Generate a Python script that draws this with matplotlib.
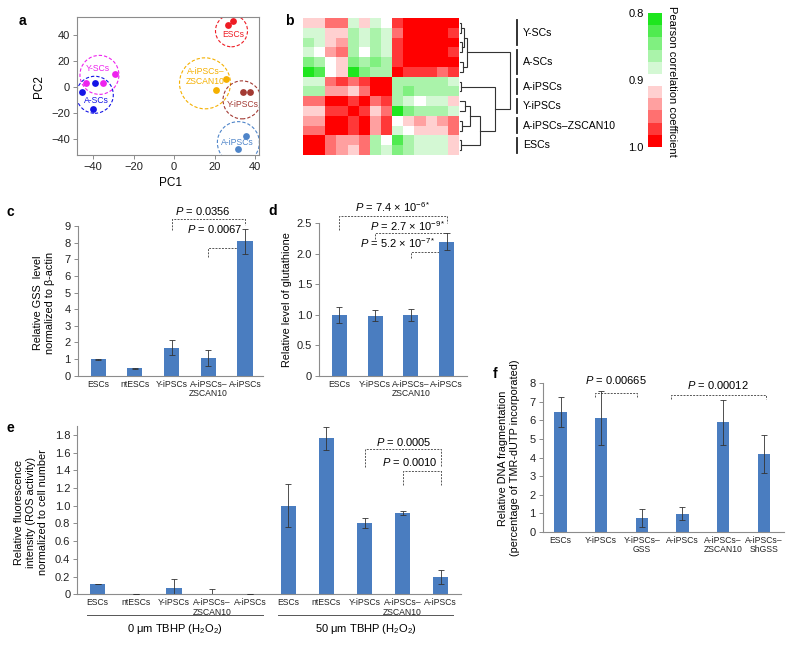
import numpy as np
import matplotlib
matplotlib.use('Agg')
import matplotlib.pyplot as plt
from matplotlib.colors import ListedColormap, BoundaryNorm
from matplotlib.patches import Ellipse

plt.rcParams['font.family'] = ['Liberation Sans', 'DejaVu Sans']
plt.rcParams['mathtext.fontset'] = 'custom'
plt.rcParams['mathtext.rm'] = 'Liberation Sans'
plt.rcParams['mathtext.it'] = 'Liberation Sans:italic'
plt.rcParams['mathtext.bf'] = 'Liberation Sans:bold'

# ---------------- data ----------------
# panel a (PCA)
pca_groups = ['ESCs', 'Y-SCs', 'A-SCs', 'A-iPSCs–\nZSCAN10', 'Y-iPSCs', 'A-iPSCs']
pc1_escs = [26.5, 29.3];          pc2_escs = [47.7, 51.0]
pc1_yscs = [-43.6, -35.3, -29.1]; pc2_yscs = [3.4, 3.0, 10.1]
pc1_ascs = [-45.6, -39.3, -40.3]; pc2_ascs = [-3.5, 3.4, -16.8]
pc1_zsc = [25.7, 20.6];           pc2_zsc = [6.0, -2.2]
pc1_yips = [33.9, 37.5];          pc2_yips = [-3.5, -3.5]
pc1_aips = [35.6, 31.7];          pc2_aips = [-37.5, -47.7]

# panel b (Pearson correlation heatmap)
heat_groups = ['Y-SCs', 'A-SCs', 'A-iPSCs', 'Y-iPSCs', 'A-iPSCs–ZSCAN10', 'ESCs']
heat_counts = [3, 3, 2, 2, 2, 2]
corr = [
    [.92, .92, .955, .955, .88, .92, .88, .90, .97, .99, .99, .99, .99, .99],
    [.88, .88, .92, .92, .865, .88, .865, .88, .955, .99, .99, .99, .99, .97],
    [.865, .88, .92, .935, .865, .88, .865, .88, .97, .99, .99, .99, .99, .99],
    [.88, .90, .935, .955, .865, .90, .865, .88, .97, .99, .99, .99, .99, .97],
    [.845, .865, .90, .92, .845, .865, .845, .865, .97, .99, .99, .99, .99, .99],
    [.81, .83, .90, .92, .81, .845, .865, .865, .99, .97, .97, .97, .955, .97],
    [.88, .88, .955, .97, .955, .97, .99, .99, .865, .865, .865, .865, .865, .88],
    [.865, .865, .935, .935, .92, .955, .99, .99, .865, .845, .865, .865, .865, .865],
    [.955, .955, .99, .99, .97, .99, .955, .97, .865, .88, .90, .88, .88, .92],
    [.92, .92, .97, .97, .99, .97, .92, .955, .81, .845, .865, .865, .865, .88],
    [.935, .935, .99, .99, .97, .99, .935, .97, .90, .92, .935, .92, .935, .955],
    [.955, .955, .99, .99, .97, .99, .935, .97, .88, .90, .92, .92, .92, .955],
    [.99, .99, .955, .935, .935, .955, .865, .90, .83, .865, .88, .88, .88, .92],
    [.99, .99, .955, .935, .92, .955, .865, .88, .845, .865, .88, .88, .88, .92],
]
# dendrogram linkage: (node_a, node_b, height); new nodes numbered from 14
linkage = [(0, 1, 0.03), (2, 3, 0.05), (14, 15, 0.08), (4, 5, 0.06), (16, 17, 0.14),
           (6, 7, 0.03), (8, 9, 0.10), (10, 11, 0.05), (20, 21, 0.20), (12, 13, 0.03),
           (22, 23, 0.40), (19, 24, 0.70), (18, 25, 1.00)]

# panel c
c_cats = ['ESCs', 'ntESCs', 'Y-iPSCs', 'A-iPSCs–\nZSCAN10', 'A-iPSCs']
c_vals = [1.0, 0.44, 1.68, 1.06, 8.07]
c_errs = [0.03, 0.05, 0.44, 0.48, 0.74]

# panel d
d_cats = ['ESCs', 'Y-iPSCs', 'A-iPSCs–\nZSCAN10', 'A-iPSCs']
d_vals = [1.0, 0.985, 1.0, 2.2]
d_errs = [0.135, 0.09, 0.1, 0.14]

# panel e
e_cats = ['ESCs', 'ntESCs', 'Y-iPSCs', 'A-iPSCs–\nZSCAN10', 'A-iPSCs'] * 2
e_vals = [0.116, 0.0, 0.068, 0.003, 0.003, 1.0, 1.76, 0.805, 0.918, 0.195]
e_errs = [0.005, 0.0, 0.10, 0.06, 0.005, 0.24, 0.13, 0.055, 0.02, 0.08]
e_groups = ['0 μm TBHP (H$_2$O$_2$)', '50 μm TBHP (H$_2$O$_2$)']

# panel f
f_cats = ['ESCs', 'Y-iPSCs', 'Y-iPSCs–\nGSS', 'A-iPSCs', 'A-iPSCs–\nZSCAN10', 'A-iPSCs–\nShGSS']
f_vals = [6.44, 6.12, 0.74, 0.98, 5.9, 4.17]
f_errs = [0.81, 1.45, 0.48, 0.36, 1.2, 1.03]

# ---------------- figure ----------------
W, H = 800, 651
fig = plt.figure(figsize=(8, 6.51), dpi=100)

def pax(x0, y0, x1, y1):
    return fig.add_axes([x0 / W, 1 - y1 / H, (x1 - x0) / W, (y1 - y0) / H])

def ftext(px, py, s, **kw):
    return fig.text(px / W, 1 - py / H, s, **kw)

BAR = '#4a7dc0'
SPC = '#8c8c8c'
TXT = '#222222'
CATFS = 6.2
YLFS = 7.8

for lab, px, py in [('a', 22, 21), ('b', 289, 21), ('c', 10, 212), ('d', 273, 211),
                    ('e', 10, 428), ('f', 495, 374)]:
    ftext(px, py, lab, fontsize=10, fontweight='bold', ha='center', va='center')

# ---- panel a ----
axa = pax(77, 17, 259, 155)
xl = (-48, 42); yl = (-52.3, 53.8)
axa.set_xlim(xl); axa.set_ylim(yl)
upx = (xl[1] - xl[0]) / (259 - 77)
upy = (yl[1] - yl[0]) / (155 - 17)
pca_sets = [
    (pc1_escs, pc2_escs, '#ee1c24', (28.4, 43.2), 16, (29.3, 40.6)),
    (pc1_yscs, pc2_yscs, '#ee22ee', (-36.9, 9.3), 19.5, (-37.5, 13.9)),
    (pc1_ascs, pc2_ascs, '#1414e6', (-39.2, -6.0), 18.5, (-38.3, -10.4)),
    (pc1_zsc, pc2_zsc, '#f5b000', (15.3, 2.8), 25.5, (15.6, 8.3)),
    (pc1_yips, pc2_yips, '#a33a33', (33.6, -9.9), 19, (33.8, -13.7)),
    (pc1_aips, pc2_aips, '#4f85c9', (31.8, -42.8), 21, (31.3, -42.6)),
]
for name, (xs, ys, col, cc, r, lxy) in zip(pca_groups, pca_sets):
    axa.scatter(xs, ys, s=24, color=col, linewidths=0, zorder=3)
    axa.add_patch(Ellipse(cc, 2 * r * upx, 2 * r * upy, fill=False, ec=col,
                          ls=(0, (3, 1.8)), lw=0.8))
    axa.text(lxy[0], lxy[1], name, color=col, fontsize=6.2, ha='center', va='center',
             linespacing=1.1)
axa.set_xticks([-40, -20, 0, 20, 40])
axa.set_yticks([-40, -20, 0, 20, 40])
axa.tick_params(labelsize=8, length=3, width=0.7, color=SPC, pad=2, labelcolor=TXT)
for s in axa.spines.values():
    s.set_color(SPC); s.set_linewidth(0.8)
ftext(39, 87, 'PC2', rotation=90, fontsize=8.5, ha='center', va='center')
ftext(170, 183, 'PC1', fontsize=8.5, ha='center', va='center')

# ---- panel b ----
cols11 = ['#1ee61e', '#50eb50', '#80f080', '#aaf3aa', '#d4f8d4', '#ffffff',
          '#ffd0d0', '#ffa0a0', '#ff7070', '#ff3838', '#ff0000']
cmap = ListedColormap(cols11)
bounds = np.linspace(0.8, 1.0, 12)
norm = BoundaryNorm(bounds, cmap.N)
n = len(corr)
axb = pax(303, 18, 459, 155)
axb.imshow(np.array(corr), cmap=cmap, norm=norm, aspect='auto', interpolation='nearest')
axb.set_axis_off()

# dendrogram
axd = pax(460, 18, 511, 155)
axd.set_xlim(0, 1.02); axd.set_ylim(n - 0.5, -0.5)
axd.set_axis_off()
pos = {i: (0.0, float(i)) for i in range(n)}
for k, (a, b, h) in enumerate(linkage):
    ha_, ya = pos[a]; hb, yb = pos[b]
    axd.plot([ha_, h, h, hb], [ya, ya, yb, yb], color='#333333', lw=0.8,
             solid_joinstyle='miter', clip_on=False)
    pos[n + k] = (h, (ya + yb) / 2)

# group bars + labels
axl = pax(512, 18, 640, 155)
axl.set_xlim(512, 640); axl.set_ylim(n - 0.5, -0.5)
axl.set_axis_off()
start = 0
for g, c in zip(heat_groups, heat_counts):
    axl.plot([517, 517], [start - 0.5 + 0.25, start + c - 0.5 - 0.25], color='#222222', lw=1.3)
    axl.text(523, start + (c - 1) / 2, g, fontsize=7.6, ha='left', va='center')
    start += c

# colour bar
axc = pax(648, 13, 662, 147)
centers = (bounds[:-1] + bounds[1:]) / 2
axc.imshow(centers.reshape(-1, 1), cmap=cmap, norm=norm, aspect='auto',
           extent=(0, 1, 1.0, 0.8), interpolation='nearest')
axc.set_xticks([])
axc.set_yticks([0.8, 0.9, 1.0])
axc.set_yticklabels(['0.8', '0.9', '1.0'])
axc.tick_params(axis='y', length=0, labelsize=8, pad=3)
for s in axc.spines.values():
    s.set_visible(False)
ftext(672, 81, 'Pearson correlation coefficient', rotation=270, fontsize=8,
      ha='center', va='center')

# ---- bar panels helper ----
def bar_panel(ax, cats, vals, errs, width, xlim, ylim, yticks, yticklabels):
    x = np.arange(len(cats))
    ax.bar(x, vals, width, color=BAR, zorder=2)
    ax.errorbar(x, vals, yerr=errs, fmt='none', ecolor='#333333', elinewidth=0.6,
                capsize=2, capthick=0.6, zorder=3)
    ax.set_xlim(xlim); ax.set_ylim(ylim)
    ax.set_xticks(x)
    ax.set_xticklabels(cats, fontsize=CATFS, linespacing=1.05)
    ax.set_yticks(yticks)
    ax.set_yticklabels(yticklabels)
    ax.tick_params(axis='x', length=0, pad=3, labelcolor=TXT)
    ax.tick_params(axis='y', length=3, width=0.7, color=SPC, labelsize=8, pad=2,
                   labelcolor=TXT)
    for s in ['top', 'right']:
        ax.spines[s].set_visible(False)
    for s in ['left', 'bottom']:
        ax.spines[s].set_color(SPC); ax.spines[s].set_linewidth(0.8)

def bracket(ax, x1, x2, y, y1, y2, text, tx, ty):
    ax.plot([x1, x1, x2, x2], [y1, y, y, y2], color='#555555', lw=0.7,
            ls=(0, (2, 1.3)), clip_on=False, zorder=1)
    ax.text(tx, ty, text, fontsize=8, ha='center', va='center', clip_on=False)

# ---- panel c ----
ax_c = pax(77.7, 226, 263, 375.7)
bar_panel(ax_c, c_cats, c_vals, c_errs, 0.41, (-0.56, 4.49), (0, 9),
          list(range(10)), [str(v) for v in range(10)])
bracket(ax_c, 2, 4, 9.4, 8.76, 9.05, r'$P$ = 0.0356', 2.85, 9.9)
bracket(ax_c, 3, 4, 7.7, 7.13, 7.5, r'$P$ = 0.0067', 3.18, 8.82)
ftext(44, 303, 'Relative GSS  level\nnormalized to β-actin', rotation=90, fontsize=YLFS,
      ha='center', va='center', multialignment='center')

# ---- panel d ----
ax_d = pax(319, 223.3, 467, 375.7)
bar_panel(ax_d, d_cats, d_vals, d_errs, 0.42, (-0.57, 3.57), (0, 2.5),
          [0, 0.5, 1.0, 1.5, 2.0, 2.5], ['0', '0.5', '1.0', '1.5', '2.0', '2.5'])
bracket(ax_d, 0, 3, 2.62, 2.39, 2.5, r'$P$ = 7.4 × 10$^{-6*}$', 1.5, 2.77)
bracket(ax_d, 1, 3, 2.34, 2.24, 2.34, r'$P$ = 2.7 × 10$^{-9*}$', 1.92, 2.45)
bracket(ax_d, 2, 3, 2.03, 1.93, 2.03, r'$P$ = 5.2 × 10$^{-7*}$', 1.64, 2.18)
ftext(287, 300, 'Relative level of glutathione', rotation=90, fontsize=YLFS,
      ha='center', va='center')

# ---- panel e ----
ax_e = pax(77.3, 426, 461, 594.3)
eticks = [0, 0.2, 0.4, 0.6, 0.8, 1.0, 1.2, 1.4, 1.6, 1.8]
bar_panel(ax_e, e_cats, e_vals, e_errs, 0.40, (-0.535, 9.53), (0, 1.9),
          eticks, ['0'] + ['%.1f' % v for v in eticks[1:]])
bracket(ax_e, 7, 9, 1.64, 1.435, 1.435, r'$P$ = 0.0005', 8.02, 1.72)
bracket(ax_e, 8, 9, 1.39, 1.23, 1.23, r'$P$ = 0.0010', 8.2, 1.49)
tr = ax_e.get_xaxis_transform()
ng = len(e_cats) // len(e_groups)
for gi, g in enumerate(e_groups):
    x0 = gi * ng - 0.28; x1 = gi * ng + ng - 1 + 0.33
    ax_e.plot([x0, x1], [-0.123, -0.123], transform=tr, color='#555555', lw=0.7,
              clip_on=False)
    ax_e.text((x0 + x1) / 2, -0.206, g, transform=tr, fontsize=8, ha='center',
              va='center')
ftext(31, 512, 'Relative fluorescence\nintensity (ROS activity)\nnormalized to cell number',
      rotation=90, fontsize=YLFS, ha='center', va='center', multialignment='center')

# ---- panel f ----
ax_f = pax(542.7, 383.3, 784, 531.7)
bar_panel(ax_f, f_cats, f_vals, f_errs, 0.30, (-0.44, 5.5), (0, 8),
          list(range(9)), [str(v) for v in range(9)])
bracket(ax_f, 0.84, 1.89, 7.46, 7.25, 7.25, r'$P$ = 0.00665', 1.36, 8.18)
bracket(ax_f, 2.71, 5.06, 7.37, 7.14, 7.14, r'$P$ = 0.00012', 3.87, 7.91)
ftext(509, 458, 'Relative DNA fragmentation\n(percentage of TMR-dUTP incorporated)',
      rotation=90, fontsize=YLFS, ha='center', va='center', multialignment='center')

fig.savefig('out.png', dpi=100)
